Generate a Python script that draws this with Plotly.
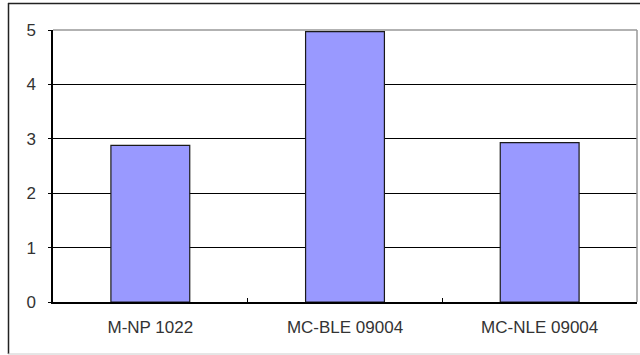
import plotly.graph_objects as go

# Bar chart data
categories = ["M-NP 1022", "MC-BLE 09004", "MC-NLE 09004"]
values = [2.88, 4.97, 2.93]
y_ticks = [0, 1, 2, 3, 4, 5]

W, H = 640, 355
L, R, T, B = 53, 3, 30, 53
pw, ph = W - L - R, H - T - B


def px_x(p):
    return (p - L) / pw


def px_y(p):
    return (H - B - p) / ph


fig = go.Figure(
    go.Bar(
        x=categories,
        y=values,
        marker=dict(color="#9999FF", line=dict(color="#1a1a1a", width=1.2)),
    )
)

font = dict(family="Liberation Sans", size=17, color="#333333")

fig.update_layout(
    width=W,
    height=H,
    margin=dict(l=L, r=R, t=T, b=B),
    paper_bgcolor="white",
    plot_bgcolor="white",
    bargap=0.595,
    showlegend=False,
    font=font,
    xaxis=dict(
        type="category",
        tickson="boundaries",
        ticks="inside",
        ticklen=4,
        tickcolor="#000000",
        showline=True,
        linecolor="#000000",
        linewidth=1.5,
        showgrid=False,
        tickfont=font,
        ticklabelstandoff=9,
    ),
    yaxis=dict(
        range=[0, 5],
        tickvals=y_ticks,
        ticks="outside",
        ticklen=3,
        tickcolor="#000000",
        showline=True,
        linecolor="#000000",
        linewidth=1.5,
        showgrid=True,
        gridcolor="#000000",
        gridwidth=1,
        zeroline=False,
        tickfont=font,
        ticklabelstandoff=9,
    ),
    shapes=[
        # plot area top and right edges in grey
        dict(type="line", xref="paper", yref="paper", x0=0, x1=1, y0=1, y1=1,
             line=dict(color="#999999", width=1.5), layer="above"),
        dict(type="line", xref="paper", yref="paper", x0=1, x1=1, y0=0, y1=1,
             line=dict(color="#999999", width=1.5), layer="above"),
        # outer chart frame
        dict(type="line", xref="paper", yref="paper", x0=px_x(8), x1=px_x(641),
             y0=px_y(3.5), y1=px_y(3.5), line=dict(color="#222222", width=1.5)),
        dict(type="line", xref="paper", yref="paper", x0=px_x(8.5), x1=px_x(8.5),
             y0=px_y(3), y1=px_y(354), line=dict(color="#222222", width=1.5)),
        dict(type="line", xref="paper", yref="paper", x0=px_x(8), x1=px_x(641),
             y0=px_y(354), y1=px_y(354), line=dict(color="#cccccc", width=1)),
    ],
)

fig.write_html("out.html")
